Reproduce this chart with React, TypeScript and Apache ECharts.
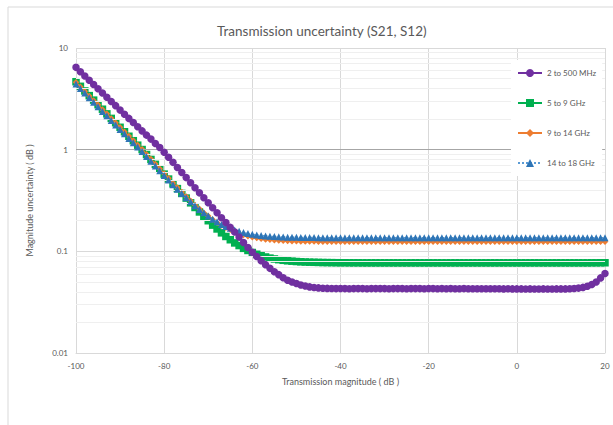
import React, { useEffect, useRef } from "react";
import * as echarts from "echarts";

const TITLE = "Transmission uncertainty (S21, S12)";
const X_NAME = "Transmission magnitude ( dB )";
const Y_NAME = "Magnitude uncertainty ( dB )";
const SERIES_NAMES = ["2 to 500 MHz", "5 to 9 GHz", "9 to 14 GHz", "14 to 18 GHz"];

const X = [
  -100, -99, -98, -97, -96, -95, -94, -93, -92, -91,
  -90, -89, -88, -87, -86, -85, -84, -83, -82, -81,
  -80, -79, -78, -77, -76, -75, -74, -73, -72, -71,
  -70, -69, -68, -67, -66, -65, -64, -63, -62, -61,
  -60, -59, -58, -57, -56, -55, -54, -53, -52, -51,
  -50, -49, -48, -47, -46, -45, -44, -43, -42, -41,
  -40, -39, -38, -37, -36, -35, -34, -33, -32, -31,
  -30, -29, -28, -27, -26, -25, -24, -23, -22, -21,
  -20, -19, -18, -17, -16, -15, -14, -13, -12, -11,
  -10, -9, -8, -7, -6, -5, -4, -3, -2, -1,
  0, 1, 2, 3, 4, 5, 6, 7, 8, 9,
  10, 11, 12, 13, 14, 15, 16, 17, 18, 19,
  20,
];

const MHZ_2_500 = [
  6.45, 5.85, 5.31, 4.82, 4.38, 3.98, 3.61, 3.28, 2.98, 2.71,
  2.45, 2.23, 2.03, 1.85, 1.68, 1.53, 1.39, 1.27, 1.15, 1.05,
  0.944, 0.841, 0.75, 0.668, 0.596, 0.531, 0.473, 0.422, 0.376, 0.336,
  0.3, 0.268, 0.24, 0.214, 0.192, 0.172, 0.155, 0.138, 0.122, 0.109,
  0.098, 0.089, 0.081, 0.074, 0.068, 0.063, 0.059, 0.055, 0.052, 0.05,
  0.0482, 0.0467, 0.0456, 0.0447, 0.0441, 0.0437, 0.0434, 0.0432, 0.0431, 0.043,
  0.043, 0.043, 0.0429, 0.043, 0.043, 0.043, 0.0429, 0.043, 0.043, 0.043,
  0.043, 0.0429, 0.043, 0.043, 0.043, 0.0429, 0.043, 0.043, 0.043, 0.0429,
  0.043, 0.043, 0.0429, 0.043, 0.0429, 0.043, 0.0429, 0.0429, 0.043, 0.0429,
  0.0429, 0.0429, 0.0428, 0.0429, 0.0428, 0.0428, 0.0428, 0.0427, 0.0428, 0.0427,
  0.0427, 0.0427, 0.0426, 0.0427, 0.0426, 0.0426, 0.0427, 0.0426, 0.0426, 0.0427,
  0.0427, 0.0427, 0.0428, 0.0431, 0.0435, 0.0442, 0.0453, 0.0472, 0.05, 0.0548,
  0.0605,
];

const GHZ_5_9 = [
  4.66, 4.2, 3.78, 3.4, 3.07, 2.77, 2.5, 2.25, 2.03, 1.84,
  1.66, 1.5, 1.355, 1.225, 1.107, 1.003, 0.896, 0.801, 0.717, 0.642,
  0.575, 0.514, 0.461, 0.414, 0.371, 0.334, 0.3, 0.27, 0.244, 0.22,
  0.2, 0.181, 0.166, 0.152, 0.14, 0.13, 0.121, 0.114, 0.107, 0.102,
  0.0974, 0.0936, 0.0905, 0.088, 0.0858, 0.0841, 0.0828, 0.0816, 0.0807, 0.08,
  0.0794, 0.0789, 0.0785, 0.0782, 0.078, 0.0778, 0.0776, 0.0775, 0.0774, 0.0773,
  0.0772, 0.0772, 0.0771, 0.0771, 0.0771, 0.077, 0.077, 0.077, 0.077, 0.077,
  0.077, 0.077, 0.077, 0.077, 0.077, 0.077, 0.077, 0.077, 0.077, 0.077,
  0.077, 0.077, 0.077, 0.077, 0.077, 0.077, 0.077, 0.077, 0.077, 0.077,
  0.077, 0.077, 0.077, 0.077, 0.077, 0.077, 0.077, 0.077, 0.077, 0.077,
  0.077, 0.077, 0.077, 0.077, 0.077, 0.077, 0.077, 0.077, 0.077, 0.077,
  0.077, 0.077, 0.077, 0.077, 0.077, 0.077, 0.077, 0.0771, 0.0771, 0.0772,
  0.0772,
];

const GHZ_9_14 = [
  4.6, 4.16, 3.75, 3.38, 3.05, 2.76, 2.49, 2.25, 2.03, 1.84,
  1.66, 1.5, 1.36, 1.23, 1.11, 1.007, 0.902, 0.808, 0.724, 0.65,
  0.583, 0.523, 0.471, 0.425, 0.383, 0.347, 0.314, 0.286, 0.262, 0.24,
  0.222, 0.206, 0.192, 0.18, 0.171, 0.163, 0.155, 0.15, 0.145, 0.141,
  0.1376, 0.1349, 0.1328, 0.1311, 0.1297, 0.1286, 0.1277, 0.1269, 0.1264, 0.1259,
  0.1255, 0.1252, 0.125, 0.1248, 0.1246, 0.1245, 0.1244, 0.1243, 0.1242, 0.1241,
  0.124, 0.124, 0.124, 0.124, 0.124, 0.124, 0.124, 0.124, 0.124, 0.124,
  0.124, 0.124, 0.124, 0.124, 0.124, 0.124, 0.124, 0.124, 0.124, 0.124,
  0.124, 0.124, 0.124, 0.124, 0.124, 0.124, 0.124, 0.124, 0.124, 0.124,
  0.124, 0.124, 0.124, 0.124, 0.124, 0.124, 0.124, 0.124, 0.124, 0.124,
  0.124, 0.124, 0.124, 0.124, 0.124, 0.124, 0.124, 0.124, 0.124, 0.124,
  0.124, 0.124, 0.124, 0.124, 0.124, 0.124, 0.124, 0.124, 0.124, 0.124,
  0.124,
];

const GHZ_14_18 = [
  4.42, 3.99, 3.6, 3.24, 2.92, 2.64, 2.38, 2.15, 1.94, 1.75,
  1.58, 1.43, 1.29, 1.17, 1.06, 0.96, 0.859, 0.77, 0.69, 0.62,
  0.558, 0.502, 0.452, 0.409, 0.37, 0.337, 0.307, 0.28, 0.258, 0.239,
  0.222, 0.207, 0.195, 0.184, 0.175, 0.169, 0.162, 0.158, 0.153, 0.15,
  0.1473, 0.1451, 0.1433, 0.1419, 0.1407, 0.1398, 0.139, 0.1384, 0.1379, 0.1375,
  0.1372, 0.137, 0.1368, 0.1366, 0.1365, 0.1364, 0.1363, 0.1362, 0.1361, 0.136,
  0.136, 0.136, 0.136, 0.136, 0.136, 0.136, 0.136, 0.136, 0.136, 0.136,
  0.136, 0.136, 0.136, 0.136, 0.136, 0.136, 0.136, 0.136, 0.136, 0.136,
  0.136, 0.136, 0.136, 0.136, 0.136, 0.136, 0.136, 0.136, 0.136, 0.136,
  0.136, 0.136, 0.136, 0.136, 0.136, 0.136, 0.136, 0.136, 0.136, 0.136,
  0.136, 0.136, 0.136, 0.136, 0.136, 0.136, 0.136, 0.136, 0.136, 0.136,
  0.136, 0.136, 0.136, 0.136, 0.136, 0.136, 0.136, 0.136, 0.136, 0.136,
  0.136,
];

// minor gridline values of the log axis (2..9 of each decade)
const MINOR_GRID = [
  0.02, 0.03, 0.04, 0.05, 0.06, 0.07, 0.08, 0.09,
  0.2, 0.3, 0.4, 0.5, 0.6, 0.7, 0.8, 0.9,
  2, 3, 4, 5, 6, 7, 8, 9,
];
const CROSS_LINE = 1;

const FONT = "Lato, 'Open Sans', sans-serif";
const GREY_TEXT = "#595959";

export default function App() {
  const ref = useRef<HTMLDivElement>(null);

  useEffect(() => {
    if (!ref.current) return;
    const chart = echarts.init(ref.current, undefined, { renderer: "svg" });
    const zip = (ys: number[]) => X.map((x, i) => [x, ys[i]]);

    const option: any = {
      animation: false,
      backgroundColor: "#ffffff",
      textStyle: { fontFamily: FONT },
      title: {
        text: TITLE,
        left: 212,
        top: 19,
        textStyle: { fontFamily: FONT, fontSize: 13.5, fontWeight: "normal", color: GREY_TEXT },
      },
      graphic: [
        {
          type: "rect",
          shape: { x: 8, y: 7, width: 640, height: 440 },
          style: { fill: "none", stroke: "#d9d9d9", lineWidth: 1 },
          silent: true,
          z: -1,
        },
      ],
      legend: {
        orient: "vertical",
        left: 511,
        top: 60,
        padding: [8, 6, 8, 6],
        itemGap: 20,
        itemWidth: 24,
        itemHeight: 10,
        backgroundColor: "#ffffff",
        data: SERIES_NAMES,
        textStyle: { fontFamily: FONT, fontSize: 8, color: GREY_TEXT, lineHeight: 10 },
        z: 10,
      },
      grid: { left: 76, right: 8, top: 48, bottom: 72, containLabel: false },
      xAxis: {
        type: "value",
        min: -100,
        max: 20,
        interval: 20,
        name: X_NAME,
        nameLocation: "middle",
        nameGap: 24,
        nameTextStyle: { fontFamily: FONT, fontSize: 9, color: GREY_TEXT },
        axisLine: { show: true, onZero: false, lineStyle: { color: "#d9d9d9" } },
        axisTick: { show: false },
        axisLabel: { fontFamily: FONT, fontSize: 8, color: GREY_TEXT, margin: 9 },
        splitLine: { show: true, lineStyle: { color: "#d9d9d9", width: 1 } },
      },
      yAxis: {
        type: "log",
        logBase: 10,
        min: 0.01,
        max: 10,
        name: Y_NAME,
        nameLocation: "middle",
        nameGap: 42,
        nameTextStyle: { fontFamily: FONT, fontSize: 9, color: GREY_TEXT },
        axisLine: { show: false },
        axisTick: { show: false },
        axisLabel: { fontFamily: FONT, fontSize: 8, color: GREY_TEXT, margin: 8 },
        splitLine: { show: true, lineStyle: { color: "#d9d9d9", width: 1 } },
      },
      series: [
        {
          name: "grid-helper",
          type: "line",
          data: [],
          silent: true,
          z: 1,
          markLine: {
            silent: true,
            symbol: "none",
            animation: false,
            label: { show: false },
            lineStyle: { color: "#efefef", width: 1, type: "solid" },
            data: [
              ...MINOR_GRID.map((v) => ({ yAxis: v })),
              { yAxis: CROSS_LINE, lineStyle: { color: "#a6a6a6", width: 1, type: "solid" } },
            ],
          },
        },
        {
          name: SERIES_NAMES[1],
          type: "line",
          data: zip(GHZ_5_9),
          symbol: "rect",
          symbolSize: 7.5,
          showAllSymbol: true,
          itemStyle: { color: "#00b050" },
          lineStyle: { color: "#00b050", width: 2 },
          z: 3,
        },
        {
          name: SERIES_NAMES[2],
          type: "line",
          data: zip(GHZ_9_14),
          symbol: "diamond",
          symbolSize: 6.5,
          showAllSymbol: true,
          itemStyle: { color: "#ed7d31" },
          lineStyle: { color: "#ed7d31", width: 1.5 },
          z: 4,
        },
        {
          name: SERIES_NAMES[3],
          type: "line",
          data: zip(GHZ_14_18),
          symbol: "triangle",
          symbolSize: 7,
          showAllSymbol: true,
          itemStyle: { color: "#2e75b6" },
          lineStyle: { color: "#5b9bd5", width: 1.5, type: "dotted" },
          z: 5,
        },
        {
          name: SERIES_NAMES[0],
          type: "line",
          data: zip(MHZ_2_500),
          symbol: "circle",
          symbolSize: 7.5,
          showAllSymbol: true,
          itemStyle: { color: "#7030a0" },
          lineStyle: { color: "#7030a0", width: 2 },
          z: 6,
        },
      ],
    };

    chart.setOption(option);
    return () => chart.dispose();
  }, []);

  return (
    <div
      ref={ref}
      style={{ position: "absolute", left: 0, top: 0, width: 613, height: 425 }}
    />
  );
}
